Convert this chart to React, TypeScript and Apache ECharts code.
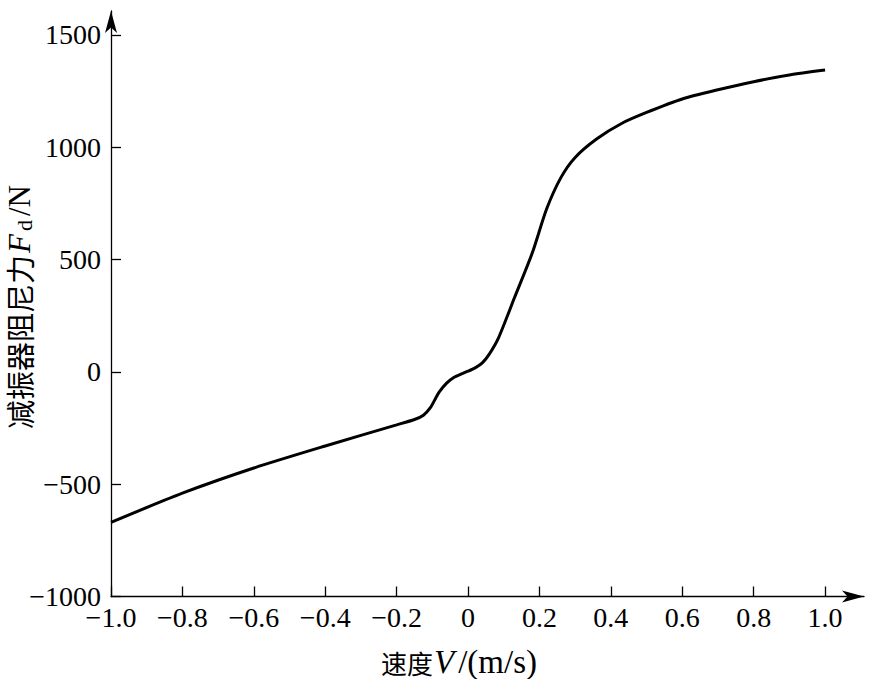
import React, { useEffect, useRef } from "react";
import * as echarts from "echarts";

const velocity = [
  -1.0, -0.8, -0.6, -0.4, -0.2, -0.15, -0.125, -0.105, -0.09, -0.08, -0.06, -0.04, -0.02, 0.0,
  0.02, 0.04, 0.06, 0.085, 0.13, 0.18, 0.22, 0.26, 0.3, 0.36, 0.43, 0.5, 0.6, 0.7, 0.8, 0.9, 1.0,
];
const force = [
  -670, -540, -428, -330, -236, -212, -193, -158, -115, -88, -50, -25, -10, 3,
  18, 40, 80, 150, 330, 530, 725, 865, 955, 1037, 1106, 1155, 1215, 1256, 1292, 1322, 1344,
];
const xTicks = [-1.0, -0.8, -0.6, -0.4, -0.2, 0, 0.2, 0.4, 0.6, 0.8, 1.0];
const yTicks = [-1000, -500, 0, 500, 1000, 1500];

const SERIF = "'Liberation Serif', 'Times New Roman', serif";
const CJK = "'Noto Sans CJK SC', sans-serif";

const fmtX = (v: number) => (Math.abs(v) < 1e-9 ? "0" : v.toFixed(1).replace("-", "\u2212"));
const fmtY = (v: number) => String(Math.round(v)).replace("-", "\u2212");

export default function App() {
  const ref = useRef<HTMLDivElement>(null);
  useEffect(() => {
    if (!ref.current) return;
    const chart = echarts.init(ref.current, null, { renderer: "svg" });
    const data = velocity.map((v, i) => [v, force[i]]);
    const axisLineStyle = { color: "#000", width: 1.3 };
    chart.setOption({
      animation: false,
      backgroundColor: "#fff",
      grid: { left: 111, right: 12, top: 11, bottom: 82.5, outerBoundsMode: "none", containLabel: false },
      xAxis: {
        type: "value",
        min: -1,
        max: 1.109,
        splitLine: { show: false },
        axisLine: {
          show: true,
          onZero: false,
          lineStyle: axisLineStyle,
          symbol: ["none", "arrow"],
          symbolSize: [9, 22],
        },
        axisTick: { inside: true, length: 10, customValues: xTicks, lineStyle: axisLineStyle },
        axisLabel: {
          customValues: xTicks,
          formatter: fmtX,
          color: "#000",
          fontFamily: SERIF,
          fontSize: 28,
          lineHeight: 22,
          margin: 10,
          hideOverlap: false,
        },
      },
      yAxis: {
        type: "value",
        min: -1000,
        max: 1606.8,
        splitLine: { show: false },
        axisLine: {
          show: true,
          onZero: false,
          lineStyle: axisLineStyle,
          symbol: ["none", "arrow"],
          symbolSize: [9, 22],
        },
        axisTick: { inside: true, length: 10, customValues: yTicks, lineStyle: axisLineStyle },
        axisLabel: {
          customValues: yTicks,
          formatter: fmtY,
          color: "#000",
          fontFamily: SERIF,
          fontSize: 28,
          lineHeight: 20,
          margin: 10,
          hideOverlap: false,
        },
      },
      graphic: [
        {
          type: "text",
          x: 19,
          y: 307,
          rotation: Math.PI / 2,
          style: {
            text: "{cn|减振器阻尼力}{it|F}{sub|d}{n|/N}",
            align: "center",
            verticalAlign: "middle",
            rich: {
              cn: { fontFamily: CJK, fontSize: 29, fill: "#000", lineHeight: 32 },
              it: { fontFamily: SERIF, fontStyle: "italic", fontSize: 31, fill: "#000", lineHeight: 32, padding: [0, 3, 0, 2] },
              sub: { fontFamily: SERIF, fontSize: 22, fill: "#000", lineHeight: 22, verticalAlign: "bottom", padding: [0, 4, 0, 0] },
              n: { fontFamily: SERIF, fontSize: 31, fill: "#000", lineHeight: 32 },
            },
          },
        },
        {
          type: "text",
          x: 381,
          y: 662,
          style: {
            text: "{cn|速度}{it|V}{n|/(m/s)}",
            align: "left",
            verticalAlign: "middle",
            rich: {
              cn: { fontFamily: CJK, fontSize: 26, fill: "#000", lineHeight: 33 },
              it: { fontFamily: SERIF, fontStyle: "italic", fontSize: 33, fill: "#000", lineHeight: 33, padding: [0, 2, 0, 1] },
              n: { fontFamily: SERIF, fontSize: 33, fill: "#000", lineHeight: 33, padding: [0, 0, 0, 2] },
            },
          },
        },
      ],
      series: [
        {
          type: "line",
          data,
          showSymbol: false,
          smooth: 0.25,
          lineStyle: { color: "#000", width: 3 },
        },
      ],
    });
    return () => chart.dispose();
  }, []);
  return <div ref={ref} style={{ position: "fixed", left: 0, top: 0, width: 876, height: 679 }} />;
}
